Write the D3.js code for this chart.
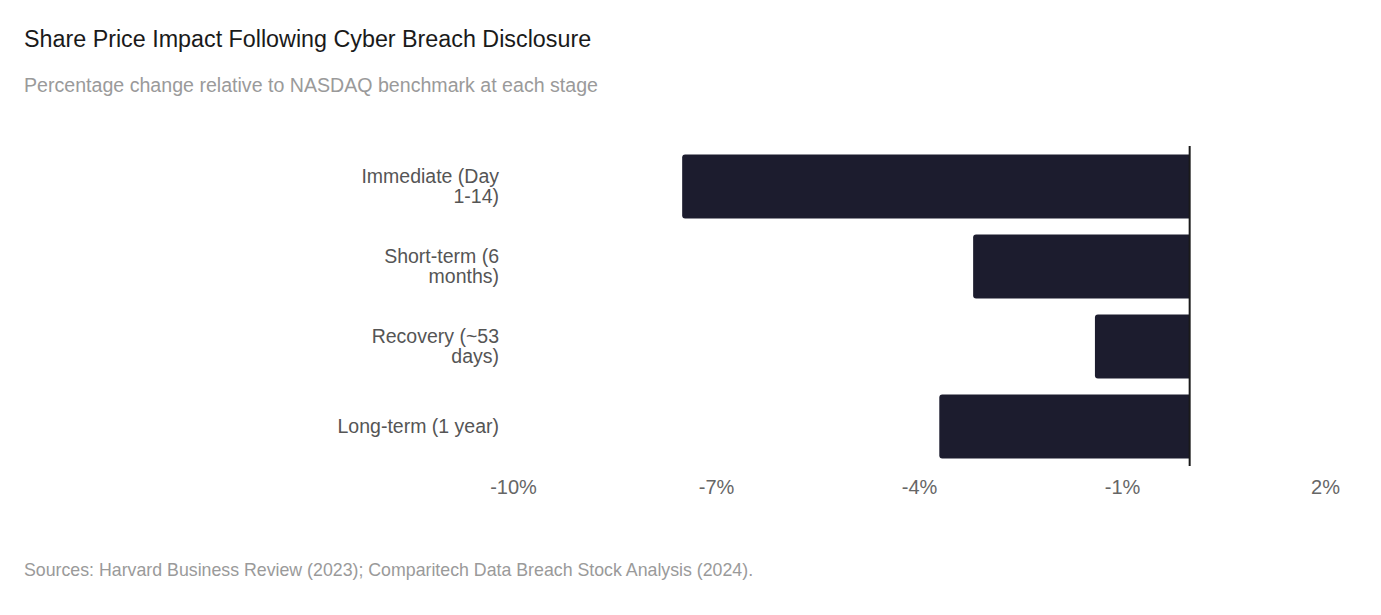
<!DOCTYPE html>
<html><head><meta charset="utf-8">
<script src="https://cdn.jsdelivr.net/npm/d3@7"></script>
<style>
body{margin:0;background:#fff;}
svg{display:block;font-family:"Liberation Sans",Arial,Helvetica,sans-serif;}
</style></head>
<body><svg id="chart" width="1381" height="615"></svg>
<script>
const categories = ["Immediate (Day 1-14)", "Short-term (6 months)", "Recovery (~53 days)", "Long-term (1 year)"];
const values = [-7.5, -3.2, -1.4, -3.7];
const tickValues = [-10, -7, -4, -1, 2];
const titleText = "Share Price Impact Following Cyber Breach Disclosure";
const subtitleText = "Percentage change relative to NASDAQ benchmark at each stage";
const sourceText = "Sources: Harvard Business Review (2023); Comparitech Data Breach Stock Analysis (2024).";

const svg = d3.select("#chart");
svg.append("rect").attr("width",1381).attr("height",615).attr("fill","#fff");

svg.append("text").attr("x",24).attr("y",47).attr("font-size",23.3).attr("fill","#1a1a1a").text(titleText);
svg.append("text").attr("x",24).attr("y",92).attr("font-size",19.6).attr("fill","#9a9a9a").text(subtitleText);
svg.append("text").attr("x",24).attr("y",576).attr("font-size",17.75).attr("fill","#9a9a9a").text(sourceText);

const x = d3.scaleLinear().domain([-10, 2]).range([513, 1325]);
const y = d3.scaleBand().domain(categories).range([146.5, 466.5]).paddingInner(0.2).paddingOuter(0.1);

const r = 3;
svg.append("g").selectAll("path").data(categories).join("path")
  .attr("fill","#1c1c2e")
  .attr("d",(c,i)=>{
    const x0 = x(values[i]), x1 = x(0), y0 = y(c), h = y.bandwidth();
    return `M${x1},${y0}H${x0+r}Q${x0},${y0} ${x0},${y0+r}V${y0+h-r}Q${x0},${y0+h} ${x0+r},${y0+h}H${x1}Z`;
  });

svg.append("line").attr("x1",x(0)).attr("x2",x(0)).attr("y1",146).attr("y2",466)
  .attr("stroke","#1a1a1a").attr("stroke-width",2);

const xAxis = d3.axisBottom(x).tickValues(tickValues).tickFormat(d=>d+"%").tickSize(0).tickPadding(0);
const gx = svg.append("g").attr("transform","translate(0,480)").call(xAxis);
gx.select(".domain").remove();
gx.selectAll("text").attr("font-size",20).attr("fill","#666").attr("font-family","Liberation Sans, Arial, sans-serif").attr("dy","0.71em");

const yAxis = d3.axisLeft(y).tickSize(0).tickPadding(0);
const gy = svg.append("g").attr("transform","translate(499,0)").call(yAxis);
gy.select(".domain").remove();
const maxW = 170, lh = 20;
gy.selectAll(".tick text").each(function(d){
  const t = d3.select(this);
  t.attr("font-size",19.5).attr("fill","#555").attr("font-family","Liberation Sans, Arial, sans-serif").attr("text-anchor","end").attr("x",0).attr("dy",null);
  const words = d.split(" ");
  t.text(null);
  let lines = [], line = [];
  const tmp = t.append("tspan");
  words.forEach(w=>{
    line.push(w);
    tmp.text(line.join(" "));
    if (tmp.node().getComputedTextLength() > maxW && line.length>1){
      line.pop(); lines.push(line.join(" ")); line=[w];
    }
  });
  lines.push(line.join(" "));
  tmp.remove();
  const n = lines.length;
  lines.forEach((L,k)=>{
    t.append("tspan").attr("x",0).attr("y", (k-(n-1)/2)*lh).attr("dy","0.35em").text(L);
  });
});
</script></body></html>
